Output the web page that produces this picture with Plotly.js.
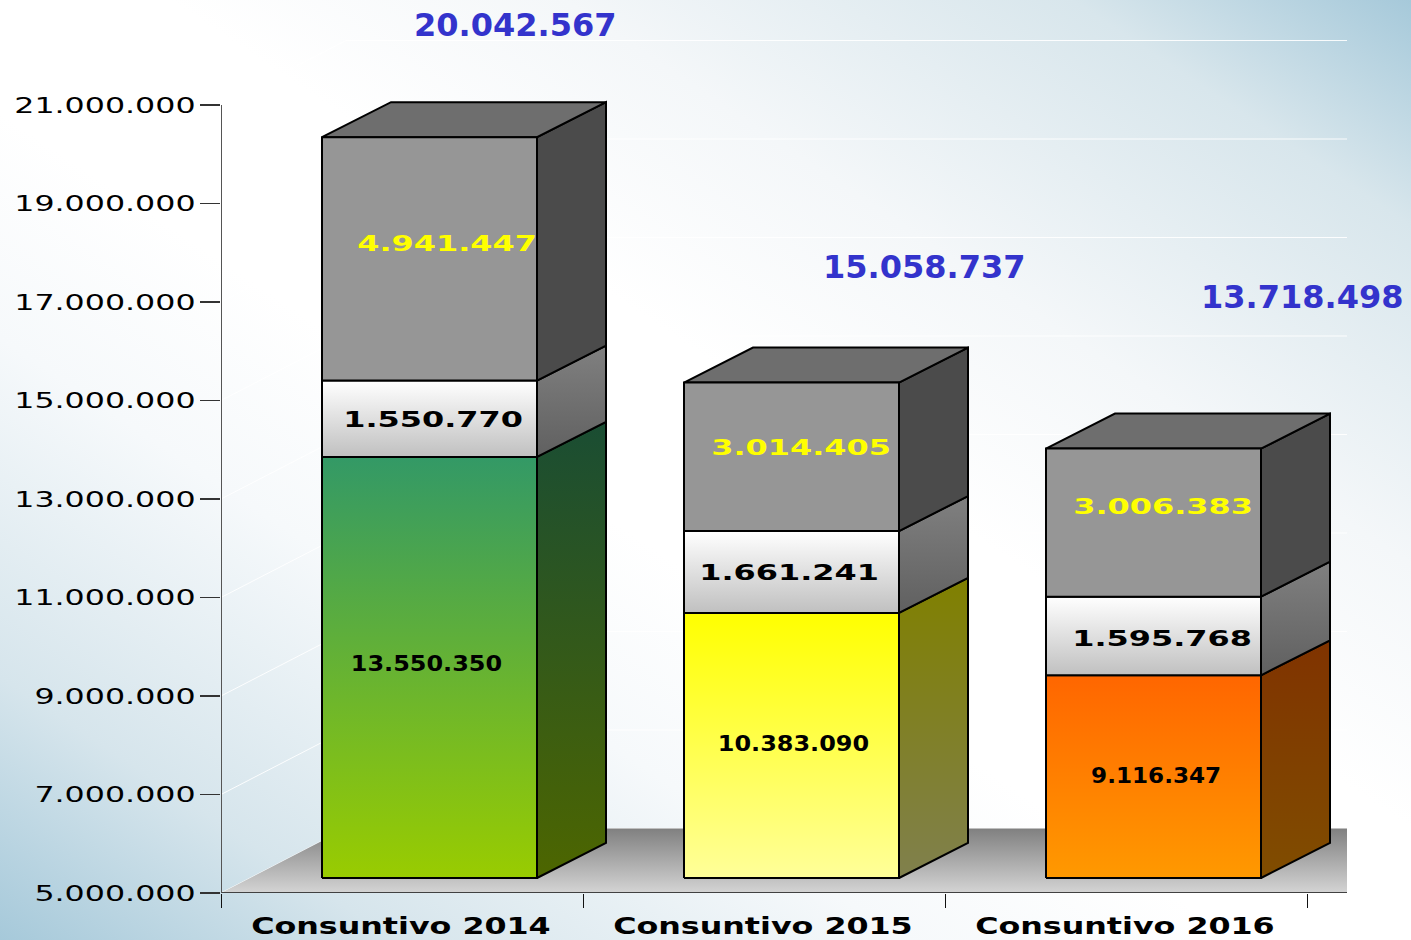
<!DOCTYPE html>
<html>
<head>
<meta charset="utf-8">
<script src="https://cdn.plot.ly/plotly-3.0.1.min.js"></script>
<style>
html,body{margin:0;padding:0;width:1411px;height:940px;overflow:hidden;
background:linear-gradient(to top right,#a6c9da 0%,#d6e5ec 14%,#f6f9fb 32%,#ffffff 44%,#ffffff 56%,#f4f7f9 70%,#d8e6ec 88%,#a6c9da 100%);}
#chart{width:1411px;height:940px;}
</style>
</head>
<body>
<div id="chart"></div>
<script>
const categories = ['Consuntivo 2014','Consuntivo 2015','Consuntivo 2016'];
const baseCost   = [13550350,10383090,9116347];
const midCost    = [1550770,1661241,1595768];
const topCost    = [4941447,3014405,3006383];
const totals     = [20042567,15058737,13718498];
const yTicks     = [5000000,7000000,9000000,11000000,13000000,15000000,17000000,19000000,21000000];
const yTickText  = ['5.000.000','7.000.000','9.000.000','11.000.000','13.000.000','15.000.000','17.000.000','19.000.000','21.000.000'];

// colours: [top, bottom] of each face
const baseFront = [['#339966','#99cc00'],['#ffff00','#ffff99'],['#ff6600','#ff9900']];
const baseSide  = [['#1a4d33','#4d6600'],['#808000','#80804d'],['#803300','#804d00']];
const midFront  = ['#ffffff','#c0c0c0'];
const midSide   = ['#808080','#606060'];
const topFront  = '#969696', topSide = '#4b4b4b', topTop = '#6e6e6e';

// geometry in axis units
const Y0 = 5e6, PX_Y = 49.25/1e6, PX_X = 362;
const xEnd = 1126/PX_X, yEnd = Y0 + 893/PX_Y;
const barLeft = 101/PX_X, barW = 215/PX_X;
const depX = 69/PX_X, depY = 35/PX_Y, lift = 15/PX_Y;
const wallX = 125/PX_X, wallY = 64.5/PX_Y;

function fmt(v){return String(v).replace(/\B(?=(\d{3})+(?!\d))/g,'.');}
function grad(c){return {type:'vertical',colorscale:[[0,c[1]],[1,c[0]]]};}
function poly(xs,ys,fill,z){
  const t={type:'scatter',mode:'lines',x:xs.concat(xs[0]),y:ys.concat(ys[0]),fill:'toself',
    line:{color:'#000',width:2},hoverinfo:'skip',showlegend:false,zorder:z};
  if(Array.isArray(fill)) t.fillgradient=grad(fill); else t.fillcolor=fill;
  return t;
}
const traces=[];

// back and left wall grid lines
yTicks.forEach(v=>{
  traces.push({type:'scatter',mode:'lines',x:[0,wallX,xEnd],y:[v,v+wallY,v+wallY],
    line:{color:'rgba(255,255,255,0.9)',width:1},hoverinfo:'skip',showlegend:false,zorder:0});
});
// floor
traces.push({type:'scatter',mode:'lines',x:[0,wallX,xEnd,xEnd,0],y:[Y0,Y0+wallY,Y0+wallY,Y0,Y0],fill:'toself',
  fillgradient:grad(['#808080','#d4d4d4']),line:{color:'rgba(0,0,0,0)',width:0},hoverinfo:'skip',showlegend:false,zorder:0});
// axis lines
traces.push({type:'scatter',mode:'lines',x:[0,xEnd],y:[Y0,Y0],line:{color:'#111',width:1.5},hoverinfo:'skip',showlegend:false,zorder:1,cliponaxis:false});
traces.push({type:'scatter',mode:'lines',x:[0,0],y:[Y0,yTicks[yTicks.length-1]],line:{color:'#555',width:2},hoverinfo:'skip',showlegend:false,zorder:1,cliponaxis:false});

// stacked bars
const xs=categories.map((c,i)=>i+barLeft+barW/2);
const b0=baseCost.map(()=>Y0+lift);
const b1=baseCost.map(v=>v+lift);
const b2=baseCost.map((v,i)=>v+midCost[i]+lift);
traces.push({type:'bar',name:'Base',x:xs,y:baseCost.map(v=>v-Y0),base:b0,width:barW,marker:{color:['#66b033','#ffff66','#ff8000']},hoverinfo:'skip',zorder:2});
traces.push({type:'bar',name:'Medio',x:xs,y:midCost,base:b1,width:barW,marker:{color:'#e0e0e0'},hoverinfo:'skip',zorder:2});
traces.push({type:'bar',name:'Alto',x:xs,y:topCost,base:b2,width:barW,marker:{color:topFront},hoverinfo:'skip',zorder:2});

categories.forEach((c,i)=>{
  const L=i+barLeft,R=L+barW;
  const s0=Y0+lift,s1=baseCost[i]+lift,s2=s1+midCost[i],s3=s2+topCost[i];
  // side faces
  traces.push(poly([R,R+depX,R+depX,R],[s0,s0+depY,s1+depY,s1],baseSide[i],3));
  traces.push(poly([R,R+depX,R+depX,R],[s1,s1+depY,s2+depY,s2],midSide,3));
  traces.push(poly([R,R+depX,R+depX,R],[s2,s2+depY,s3+depY,s3],topSide,3));
  // top face
  traces.push(poly([L,L+depX,R+depX,R],[s3,s3+depY,s3+depY,s3],topTop,3));
  // front faces with gradient
  traces.push(poly([L,R,R,L],[s0,s0,s1,s1],baseFront[i],3));
  traces.push(poly([L,R,R,L],[s1,s1,s2,s2],midFront,3));
  traces.push(poly([L,R,R,L],[s2,s2,s3,s3],topFront,3));
});

// labels: pixel nudges [dx, dy] relative to the middle of each segment
const baseNudge=[[-3.5,3],[1.5,1],[2.5,1]];
const midNudge =[[3.5,-1],[-2.5,-1],[8.5,-3]];
const topNudge =[[17,15],[9.5,9],[9.5,16]];
const totNudge =[[85.5,112],[132.5,116],[148.5,152]];
const baseStretch=[1.14,1.14,1.10];
const annotations=[], stretch=[];
function lab(x,y,t,n,color,size,s){
  annotations.push({xref:'x',yref:'y',x:x,y:y,text:t,showarrow:false,xanchor:'center',yanchor:'middle',
    xshift:n[0],yshift:n[1],font:{family:'DejaVu Sans',size:size,color:color,weight:700}});
  stretch.push(s);
}
categories.forEach((c,i)=>{
  const s1=baseCost[i]+lift,s2=s1+midCost[i],s3=s2+topCost[i];
  lab(xs[i],(Y0+lift+s1)/2,fmt(baseCost[i]),baseNudge[i],'#000',21,baseStretch[i]);
  lab(xs[i],(s1+s2)/2,fmt(midCost[i]),midNudge[i],'#000',21,1.52);
  lab(xs[i],(s2+s3)/2,fmt(topCost[i]),topNudge[i],'#ffff00',21,1.52);
  lab(xs[i],s3,fmt(totals[i]),totNudge[i],'#3333cc',32,1);
});

const layout={
  width:1411,height:940,margin:{l:221,r:64,t:0,b:47,pad:0},
  paper_bgcolor:'rgba(0,0,0,0)',plot_bgcolor:'rgba(0,0,0,0)',
  showlegend:false,barmode:'overlay',
  xaxis:{range:[0,xEnd],showgrid:false,zeroline:false,showline:false,
    tickmode:'array',tickvals:categories.map((c,i)=>i+0.497),ticktext:categories,ticks:'outside',ticklen:12,tickcolor:'rgba(0,0,0,0)',
    tickfont:{family:'DejaVu Sans',size:23,color:'#000',weight:700},
    minor:{tickmode:'array',tickvals:[0,1,2,3],ticks:'outside',ticklen:14,tickwidth:1,tickcolor:'#111'}},
  yaxis:{range:[Y0,yEnd],showgrid:false,zeroline:false,showline:false,
    tickmode:'array',tickvals:yTicks,ticktext:yTickText,ticks:'outside',ticklen:20,tickwidth:1.5,tickcolor:'#333',
    tickfont:{family:'DejaVu Sans',size:22,color:'#000'}},
  annotations:annotations
};

function widen(el,s){
  if(s===1) return;
  const x=parseFloat(el.getAttribute('x'))||0,y=parseFloat(el.getAttribute('y'))||0;
  const tr=el.getAttribute('transform')||'';
  el.setAttribute('transform',tr+' translate('+x+','+y+') scale('+s+',1) translate('+(-x)+','+(-y)+')');
}
const gd=document.getElementById('chart');
Plotly.newPlot(gd,traces,layout,{displayModeBar:false,staticPlot:true}).then(()=>{
  gd.querySelectorAll('.ytick text').forEach(t=>widen(t,1.44));
  gd.querySelectorAll('.xtick text').forEach(t=>widen(t,1.38));
  gd.querySelectorAll('.annotation').forEach((a,i)=>{
    const t=a.querySelector('text'); if(t) widen(t,stretch[i]);
  });
});
</script>
</body>
</html>
